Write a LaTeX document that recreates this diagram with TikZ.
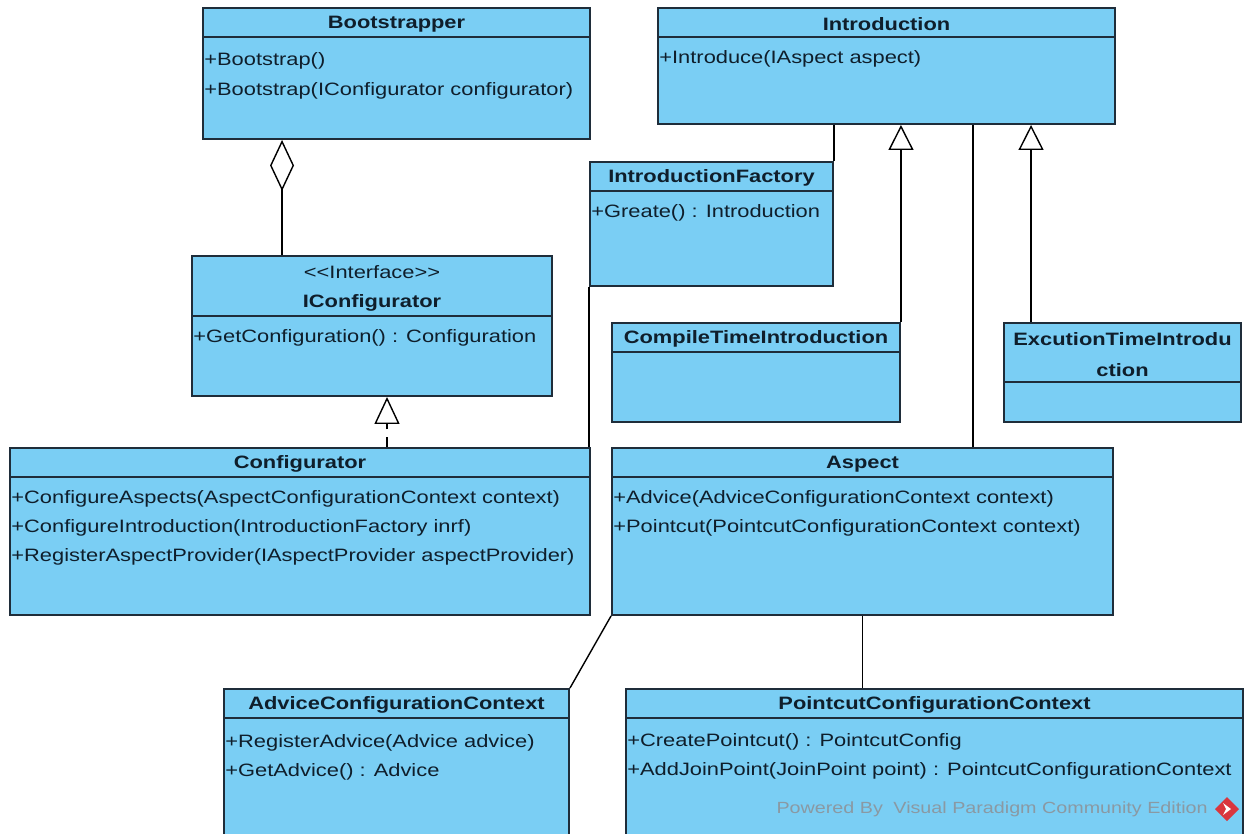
\documentclass[tikz,border=0pt]{standalone}
\usepackage{fontspec}
\setmainfont{Liberation Sans}[FakeStretch=1.22]
\usetikzlibrary{arrows.meta,calc,fit}
\definecolor{classfill}{HTML}{7ACEF4}
\definecolor{classline}{HTML}{1F2D3A}
\definecolor{textcol}{HTML}{0F1E2B}
\definecolor{wmgray}{HTML}{8A99A3}
\definecolor{iconred}{HTML}{D9363E}

\begin{document}
\begin{tikzpicture}[x=0.02cm,y=-0.02cm,
    classbox/.style={draw=classline, fill=classfill, line width=1.1pt, inner sep=0pt},
    sepline/.style={draw=classline, line width=1.1pt},
    cname/.style={font=\fontsize{10.2}{17.6}\selectfont\bfseries, text=textcol, inner sep=0pt},
    meth/.style={font=\fontsize{10.2}{12.4}\selectfont, text=textcol, inner sep=0pt, anchor=west},
    assoc/.style={draw=black, line width=0.8pt, line join=miter},
    inherit/.style={assoc, -{Triangle[open, length=0.5cm, width=0.5cm]}},
    realize/.style={assoc, dash pattern=on 6pt off 4pt, -{Triangle[open, length=0.54cm, width=0.5cm]}},
    aggreg/.style={assoc, {Diamond[open, length=1.02cm, width=0.48cm]}-}]
        \useasboundingbox (0,0) rectangle (1247,833);
        \clip (0,0) rectangle (1247,833);
        %Lớp
        \node[classbox, fit={(203,8) (590,139)}] (boot) {};
        \node[classbox, fit={(658,8) (1115,124)}] (intro) {};
        \node[classbox, fit={(590,162) (833,286)}] (fact) {};
        \node[classbox, fit={(192,256) (552,396)}] (iconf) {};
        \node[classbox, fit={(612,323) (900,422)}] (comp) {};
        \node[classbox, fit={(1004,323) (1241,422)}] (exec) {};
        \node[classbox, fit={(10,448) (590,615)}] (conf) {};
        \node[classbox, fit={(612,448) (1113,615)}] (aspect) {};
        \node[classbox, fit={(224,689) (569,845)}] (advice) {};
        \node[classbox, fit={(626,689) (1243,845)}] (point) {};
        %Vạch tiêu đề
        \foreach \n/\h in {boot/30, intro/30, fact/30, iconf/61, comp/30, exec/60, conf/30, aspect/30, advice/30, point/30}
            \draw[sepline] ($(\n.north west)+(0,\h)$) -- ($(\n.north east)+(0,\h)$);
        %Tên lớp
        \node[cname] (bootname) at ($(boot.north)+(0,17)$) {Bootstrapper};
        \node[cname] (introname) at ($(intro.north)+(0,17)$) {Introduction};
        \node[cname] (factname) at ($(fact.north)+(0,17)$) {IntroductionFactory};
        \node[meth, anchor=center] (iconfster) at ($(iconf.north)+(0,17)$) {{<}{<}Interface{>}{>}};
        \node[cname] (iconfname) at ($(iconf.north)+(0,48)$) {IConfigurator};
        \node[cname] (compname) at ($(comp.north)+(0,17)$) {CompileTimeIntroduction};
        \node[cname, align=center] (execname) at ($(exec.north)+(0,33)$) {ExcutionTimeIntrodu\\ction};
        \node[cname] (confname) at ($(conf.north)+(0,17)$) {Configurator};
        \node[cname] (aspectname) at ($(aspect.north)+(0,17)$) {Aspect};
        \node[cname] (advicename) at ($(advice.north)+(0,17)$) {AdviceConfigurationContext};
        \node[cname] (pointname) at ($(point.north)+(0,17)$) {PointcutConfigurationContext};
        %Phương thức
        \node[meth] (bootm1) at ($(boot.north west)+(2,54)$) {+Bootstrap()};
        \node[meth] (bootm2) at ($(boot.north west)+(2,84)$) {+Bootstrap(IConfigurator configurator)};
        \node[meth] (introm1) at ($(intro.north west)+(2,52)$) {+Introduce(IAspect aspect)};
        \node[meth] (factm1) at ($(fact.north west)+(2,52)$) {+Greate() : Introduction};
        \node[meth] (iconfm1) at ($(iconf.north west)+(2,83)$) {+GetConfiguration() : Configuration};
        \node[meth] (confm1) at ($(conf.north west)+(2,52)$) {+ConfigureAspects(AspectConfigurationContext context)};
        \node[meth] (confm2) at ($(conf.north west)+(2,81)$) {+ConfigureIntroduction(IntroductionFactory inrf)};
        \node[meth] (confm3) at ($(conf.north west)+(2,110)$) {+RegisterAspectProvider(IAspectProvider aspectProvider)};
        \node[meth] (aspectm1) at ($(aspect.north west)+(2,52)$) {+Advice(AdviceConfigurationContext context)};
        \node[meth] (aspectm2) at ($(aspect.north west)+(2,81)$) {+Pointcut(PointcutConfigurationContext context)};
        \node[meth] (advicem1) at ($(advice.north west)+(2,55)$) {+RegisterAdvice(Advice advice)};
        \node[meth] (advicem2) at ($(advice.north west)+(2,84)$) {+GetAdvice() : Advice};
        \node[meth] (pointm1) at ($(point.north west)+(2,54)$) {+CreatePointcut() : PointcutConfig};
        \node[meth] (pointm2) at ($(point.north west)+(2,83)$) {+AddJoinPoint(JoinPoint point) : PointcutConfigurationContext};
        %Watermark
        \node[font=\fontsize{9.2}{11}\selectfont, text=wmgray, anchor=east, inner sep=0pt] (wmark) at (1208,809) {Powered By\hspace{6pt}Visual Paradigm Community Edition};
        \fill[iconred] (1227,797) -- (1239,809) -- (1227,821) -- (1215,809) -- cycle;
        \fill[white] (1223,803) -- (1231,809) -- (1223,815) -- (1226,809) -- cycle;
        %Quan hệ
        \coordinate (aggpt) at ($(boot.south west)+(80,0)$);
        \draw[aggreg] (aggpt) -- (aggpt |- iconf.north);
        \coordinate (realpt) at ($(iconf.south)+(15,0)$);
        \draw[realize] (realpt |- conf.north) -- (realpt);
        \draw[assoc] (intro.south -| fact.north east) -- (fact.north east);
        \draw[assoc] (fact.south west) -- (fact.south west |- conf.north);
        \draw[inherit] (comp.north east) -- (comp.north east |- intro.south);
        \coordinate (introasp) at ($(intro.south west)+(316,0)$);
        \draw[assoc] (introasp) -- (introasp |- aspect.north);
        \coordinate (execpt) at ($(exec.north west)+(28,0)$);
        \draw[inherit] (execpt) -- (execpt |- intro.south);
        \draw[assoc] (aspect.south west) -- (advice.north east);
        \draw[assoc] (aspect.south) -- (aspect.south |- point.north);
\end{tikzpicture}
\end{document}
